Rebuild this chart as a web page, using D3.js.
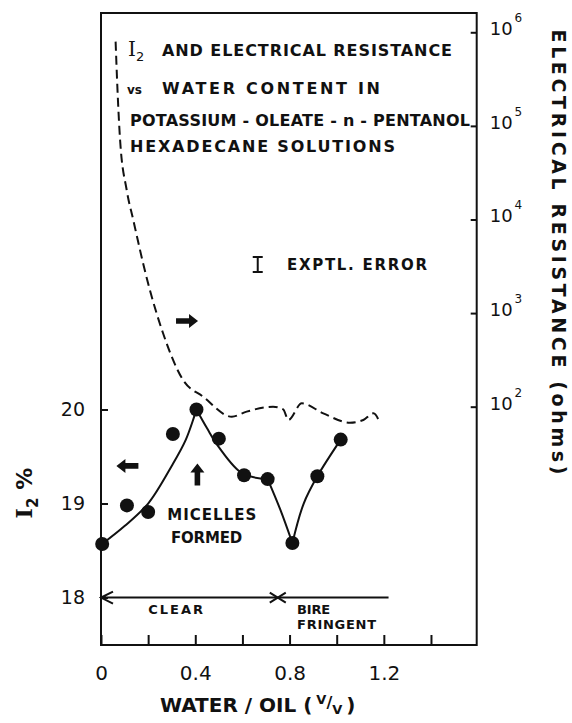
<!DOCTYPE html>
<html>
<head>
<meta charset="utf-8">
<script src="https://cdn.jsdelivr.net/npm/d3@7"></script>
<style>
  body { margin: 0; background: #fff; }
  text { font-family: "DejaVu Sans", sans-serif; fill: #111; }
  .bold { font-weight: bold; }
</style>
</head>
<body>
<div id="chart"></div>
<script>
// I2 % vs water/oil (filled dots)
const waterOil = [0.005, 0.11, 0.2, 0.305, 0.405, 0.5, 0.607, 0.707, 0.812, 0.918, 1.017];
const iodinePct = [18.57, 18.98, 18.91, 19.74, 20.0, 19.69, 19.30, 19.26, 18.58, 19.29, 19.68];

// hand-drawn fit through the I2 points, in four pieces (cusps at 0.4 and 0.8)
const fitX = [
  [0.005, 0.1, 0.2, 0.3, 0.36, 0.405],
  [0.405, 0.45, 0.5, 0.6, 0.707],
  [0.707, 0.76, 0.812],
  [0.812, 0.86, 0.918, 1.017]
];
const fitY = [
  [18.57, 18.76, 19.0, 19.40, 19.68, 20.0],
  [20.0, 19.80, 19.60, 19.32, 19.26],
  [19.26, 18.94, 18.58],
  [18.58, 19.0, 19.29, 19.68]
];

// electrical resistance (ohms), dashed line, right log axis
const resX = [0.062, 0.070, 0.081, 0.109, 0.137, 0.194, 0.263, 0.348, 0.433, 0.555, 0.618,
              0.730, 0.773, 0.795, 0.852, 0.943, 1.056, 1.113, 1.156, 1.184];
const resOhms = [794000, 242000, 70600, 20650, 9860, 2370, 612, 193, 128, 78.2, 88.5,
                 100, 93.8, 72.1, 108.6, 84.9, 67.5, 72.1, 84.9, 66.5];

const xTicks = [0, 0.2, 0.4, 0.6, 0.8, 1.0, 1.2, 1.4];
const xTickLabels = ["0", "", "0.4", "", "0.8", "", "1.2", ""];
const yLeftTicks = [18, 19, 20];
const yRightTicks = [100, 1000, 10000, 100000, 1000000];
const yRightExp = ["2", "3", "4", "5", "6"];

const phaseEnd = 1.22, phaseBoundary = 0.75;

const W = 572, H = 723;
const L = 101, R = 476.7, T = 13, B = 645;

const svg = d3.select("#chart").append("svg")
    .attr("width", W).attr("height", H);

const x = d3.scaleLinear().domain([0, 1.594]).range([L, R]);
const yL = d3.scaleLinear().domain([17.495, 24.218]).range([B, T]);
const yR = d3.scaleLog().domain([Math.pow(10, -0.546), Math.pow(10, 6.206)]).range([B, T]);

// frame
svg.append("rect")
    .attr("x", L).attr("y", T)
    .attr("width", R - L).attr("height", B - T)
    .attr("fill", "none").attr("stroke", "#111").attr("stroke-width", 2);

// bottom axis
const xAxis = svg.append("g")
    .attr("transform", "translate(0," + B + ")")
    .call(d3.axisBottom(x).tickValues(xTicks).tickSizeInner(-10).tickSizeOuter(0)
        .tickPadding(21).tickFormat((d, i) => xTickLabels[i]));
xAxis.select(".domain").remove();
xAxis.selectAll("line").attr("stroke", "#111").attr("stroke-width", 2);
xAxis.selectAll("text").attr("font-size", 20).attr("font-family", "DejaVu Sans").attr("fill", "#111");

// left axis
const yAxisL = svg.append("g")
    .attr("transform", "translate(" + L + ",0)")
    .call(d3.axisLeft(yL).tickValues(yLeftTicks).tickSizeInner(-7).tickSizeOuter(0)
        .tickPadding(16).tickFormat(d3.format("d")));
yAxisL.select(".domain").remove();
yAxisL.selectAll("line").attr("stroke", "#111").attr("stroke-width", 2);
yAxisL.selectAll("text").attr("font-size", 19).attr("font-family", "DejaVu Sans").attr("fill", "#111");

// right axis (log), ticks inward, labels as 10^n
const yAxisR = svg.append("g")
    .attr("transform", "translate(" + R + ",0)")
    .call(d3.axisRight(yR).tickValues(yRightTicks).tickSizeInner(-6).tickSizeOuter(0).tickFormat(""));
yAxisR.select(".domain").remove();
yAxisR.selectAll("line").attr("stroke", "#111").attr("stroke-width", 2);

const rLab = svg.append("g").selectAll("text")
    .data(yRightTicks).join("text")
    .attr("x", R + 13)
    .attr("y", d => yR(d) + 3)
    .attr("font-size", 18);
rLab.append("tspan").text("10");
rLab.append("tspan").attr("font-size", 12).attr("dy", -13).attr("dx", 2)
    .text((d, i) => yRightExp[i]);

// axis titles
const xt = svg.append("text").attr("class", "bold")
    .attr("x", 160).attr("y", 712).attr("font-size", 20);
xt.append("tspan").text("WATER / OIL  (");
xt.append("tspan").attr("font-size", 13).attr("dy", -8).attr("dx", 4).text("V");
xt.append("tspan").attr("font-size", 16).attr("dy", 4).text("/");
xt.append("tspan").attr("font-size", 13).attr("dy", 6).text("V");
xt.append("tspan").attr("dy", -2).attr("dx", 4).text(")");

const ylt = svg.append("text").attr("class", "bold")
    .attr("transform", "translate(32,493) rotate(-90)")
    .attr("text-anchor", "middle").attr("font-size", 22);
ylt.append("tspan").attr("font-family", "DejaVu Serif").text("I");
ylt.append("tspan").attr("font-size", 15).attr("dy", 6).text("2");
ylt.append("tspan").attr("dy", -6).attr("dx", 8).text("%");

svg.append("text").attr("class", "bold")
    .attr("transform", "translate(552,252) rotate(90)")
    .attr("text-anchor", "middle").attr("font-size", 19)
    .attr("textLength", 445).attr("lengthAdjust", "spacing")
    .text("ELECTRICAL   RESISTANCE  (ohms)");

// title block
const t1 = svg.append("text").attr("class", "bold").attr("x", 128).attr("y", 56).attr("font-size", 17);
t1.append("tspan").attr("font-family", "DejaVu Serif").attr("font-weight", "normal").attr("font-size", 20).text("I");
t1.append("tspan").attr("font-size", 13).attr("dy", 5).attr("font-weight", "normal").text("2");
svg.append("text").attr("class", "bold").attr("x", 162).attr("y", 56).attr("font-size", 16)
    .attr("textLength", 290).attr("lengthAdjust", "spacing").text("AND  ELECTRICAL  RESISTANCE");
svg.append("text").attr("class", "bold").attr("x", 127).attr("y", 94).attr("font-size", 12).text("vs");
svg.append("text").attr("class", "bold").attr("x", 162).attr("y", 94).attr("font-size", 16)
    .attr("textLength", 218).attr("lengthAdjust", "spacing").text("WATER  CONTENT   IN");
svg.append("text").attr("class", "bold").attr("x", 130).attr("y", 126).attr("font-size", 16)
    .attr("textLength", 340).attr("lengthAdjust", "spacing").text("POTASSIUM - OLEATE - n - PENTANOL");
svg.append("text").attr("class", "bold").attr("x", 130).attr("y", 152).attr("font-size", 16)
    .attr("textLength", 265).attr("lengthAdjust", "spacing").text("HEXADECANE     SOLUTIONS");

// experimental error marker
const errX = x(0.665), errTop = yR(Math.pow(10, 3.6)), errBot = yR(Math.pow(10, 3.44));
svg.append("path")
    .attr("d", `M${errX},${errTop}V${errBot}M${errX - 5},${errTop}H${errX + 5}M${errX - 5},${errBot}H${errX + 5}`)
    .attr("stroke", "#111").attr("stroke-width", 2).attr("fill", "none");
svg.append("text").attr("class", "bold").attr("x", x(0.789)).attr("y", yR(Math.pow(10, 3.46)))
    .attr("font-size", 15).attr("textLength", 140).attr("lengthAdjust", "spacing").text("EXPTL.  ERROR");

// resistance dashed line
const resLine = d3.line().x(d => x(d[0])).y(d => yR(d[1])).curve(d3.curveMonotoneX);
svg.append("path")
    .attr("d", resLine(d3.zip(resX, resOhms)))
    .attr("fill", "none").attr("stroke", "#111").attr("stroke-width", 2)
    .attr("stroke-dasharray", "9,5");

// I2 fit curve
const fitLine = d3.line().x(d => x(d[0])).y(d => yL(d[1])).curve(d3.curveCatmullRom.alpha(0.5));
svg.append("g").selectAll("path")
    .data(fitX.map((xs, i) => d3.zip(xs, fitY[i])))
    .join("path")
    .attr("d", fitLine)
    .attr("fill", "none").attr("stroke", "#111").attr("stroke-width", 2);

// I2 dots
svg.append("g").selectAll("circle")
    .data(d3.zip(waterOil, iodinePct))
    .join("circle")
    .attr("cx", d => x(d[0])).attr("cy", d => yL(d[1])).attr("r", 7)
    .attr("fill", "#111");

// block arrows
function blockArrow(cx, cy, angle) {
  svg.append("path")
      .attr("d", "M-11,-2.8H2V-7L11,0L2,7V2.8H-11Z")
      .attr("transform", `translate(${cx},${cy}) rotate(${angle})`)
      .attr("fill", "#111");
}
blockArrow(x(0.365), yR(Math.pow(10, 2.916)), 0);   // -> right axis
blockArrow(x(0.112), yL(19.40), 180);               // <- left axis
blockArrow(x(0.409), yL(19.31), -90);               // micelles formed

svg.append("text").attr("class", "bold").attr("x", x(0.47)).attr("y", yL(18.82))
    .attr("text-anchor", "middle").attr("font-size", 15)
    .attr("textLength", 89).attr("lengthAdjust", "spacing").text("MICELLES");
svg.append("text").attr("class", "bold").attr("x", x(0.448)).attr("y", yL(18.58))
    .attr("text-anchor", "middle").attr("font-size", 15)
    .attr("textLength", 71).attr("lengthAdjust", "spacing").text("FORMED");

// phase line: clear | birefringent
const py = yL(18);
svg.append("path")
    .attr("d", `M${x(0)},${py}H${x(phaseEnd)}M${x(0) + 12},${py - 6}L${x(0)},${py}L${x(0) + 12},${py + 6}`)
    .attr("stroke", "#111").attr("stroke-width", 2).attr("fill", "none");
const bx = x(phaseBoundary);
svg.append("path")
    .attr("d", `M${bx - 8},${py - 5}L${bx + 8},${py + 5}M${bx - 8},${py + 5}L${bx + 8},${py - 5}`)
    .attr("stroke", "#111").attr("stroke-width", 2).attr("fill", "none");
svg.append("text").attr("class", "bold").attr("x", x(0.2)).attr("y", py + 16)
    .attr("font-size", 13).attr("textLength", 55).attr("lengthAdjust", "spacing").text("CLEAR");
svg.append("text").attr("class", "bold").attr("x", x(0.832)).attr("y", py + 16)
    .attr("font-size", 13).attr("textLength", 33).attr("lengthAdjust", "spacing").text("BIRE");
svg.append("text").attr("class", "bold").attr("x", x(0.832)).attr("y", py + 31)
    .attr("font-size", 13).attr("textLength", 79).attr("lengthAdjust", "spacing").text("FRINGENT");
</script>
</body>
</html>
